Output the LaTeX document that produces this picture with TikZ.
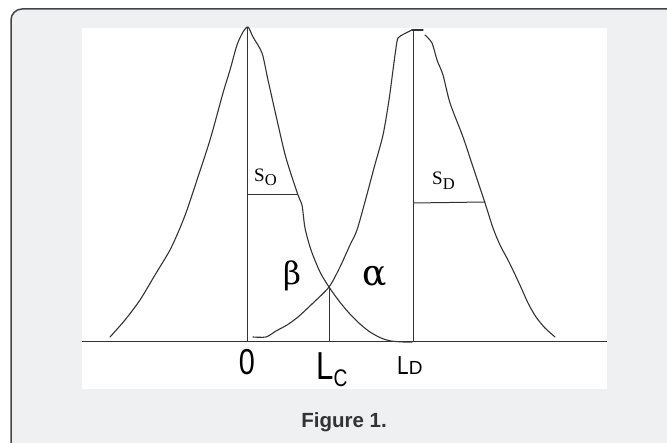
\documentclass[tikz,border=0pt]{standalone}
\usepackage{fontspec}
\setmainfont{Liberation Serif}
\newfontfamily\narrowsans[FakeStretch=0.8]{Liberation Sans}
\newfontfamily\capsans{Liberation Sans}
\newfontfamily\greekserif{DejaVu Serif}
\definecolor{panelbg}{HTML}{EFF0F2}
\definecolor{ink}{HTML}{333333}
\definecolor{bordercol}{HTML}{444444}
\begin{document}
\begin{tikzpicture}[x=1pt,y=-1pt,
  curve/.style={ink, line width=1.1pt, line join=round, line cap=round},
  rule/.style={ink, line width=1pt},
  lbl/.style={inner sep=0pt, anchor=base west, text=black}]
\useasboundingbox (0,0) rectangle (667,443);
\fill[white] (0,0) rectangle (667,443);
\draw[fill=panelbg, draw=bordercol, line width=1.5pt, rounded corners=11pt] (11,9) rectangle (700,480);
\fill[white] (82,28) rectangle (607,389);

% named points
\coordinate (axL) at (82,342);
\coordinate (axR) at (607,342);
\coordinate (O) at (247,342);
\coordinate (Otop) at (247,27);
\coordinate (Lc) at (329,342);
\coordinate (X) at (329,287);
\coordinate (LD) at (413,342);
\coordinate (LDtop) at (413,30);
\coordinate (soL) at (247,195);
\coordinate (soR) at (298,195);
\coordinate (sdL) at (413,203);
\coordinate (sdR) at (485,202);

% axis and rules
\draw[rule] (axL) -- (axR);
\draw[rule] (Otop) -- (O);
\draw[rule] (X) -- (Lc);
\draw[rule] (LDtop) -- (LD);
\draw[rule] (soL) -- (soR);
\draw[rule] (sdL) -- (sdR);

% left distribution
\draw[curve] plot[smooth, tension=0.45] coordinates {
 (110,337) (125,320) (140,300) (155,275) (170,250) (180,228) (187,210)
 (196,183) (210,140) (223,93) (230,70) (237,45) (243,32) (248,27)
 (253,37) (262,53) (268,80) (277,120) (286,158) (298,195) (302,205)
 (305,228) (311,250) (320,272) (329,287) (339,301) (349,313) (360,324)
 (370,332) (381,338) (391,341) (404,342) (412,342)};

% right distribution
\draw[curve] plot[smooth, tension=0.45] coordinates {
 (253,337) (266,337) (276,331) (287,325) (298,317) (312,304) (329,287)
 (340,267) (350,245) (357,230) (366,198) (374,168) (383,135) (389,100)
 (393,70) (396,48) (398,38) (404,34) (412,30)};
\draw[curve] (412,30) -- (423,30);
\draw[curve] plot[smooth, tension=0.45] coordinates {
 (425,35) (432,43) (437,60) (443,75) (450,103) (463,137) (474,170)
 (485,203) (493,228) (500,245) (509,262) (519,283) (528,303) (536,317)
 (545,328) (555,337)};

% labels
\node[lbl] (sO) at (254,182) {\fontsize{19}{19}\selectfont S\raisebox{-4pt}{\fontsize{16.5}{16.5}\selectfont O}};
\node[lbl] (sD) at (432,185) {\fontsize{19}{19}\selectfont S\raisebox{-5pt}{\fontsize{16.5}{16.5}\selectfont D}};
\node[inner sep=0pt] (beta) at (292,276) {\greekserif\fontsize{31}{31}\selectfont β};
\node[inner sep=0pt] (alpha) at (375,277) {\greekserif\fontsize{36}{36}\selectfont α};

\node[lbl, anchor=base] (zero) at (247,375) {\narrowsans\fontsize{36}{36}\selectfont 0};
\node[lbl] (LcLab) at (316,380) {\narrowsans\fontsize{39}{39}\selectfont L\raisebox{-7pt}{\fontsize{24}{24}\selectfont C}};
\node[lbl] (LDLab) at (397,375) {\narrowsans\fontsize{26}{26}\selectfont L\capsans\fontsize{19}{19}\selectfont D};

\node[inner sep=0pt, anchor=base, text=ink] (cap) at (344,428) {\capsans\bfseries\fontsize{20.5}{20.5}\selectfont Figure 1.};
\end{tikzpicture}
\end{document}
